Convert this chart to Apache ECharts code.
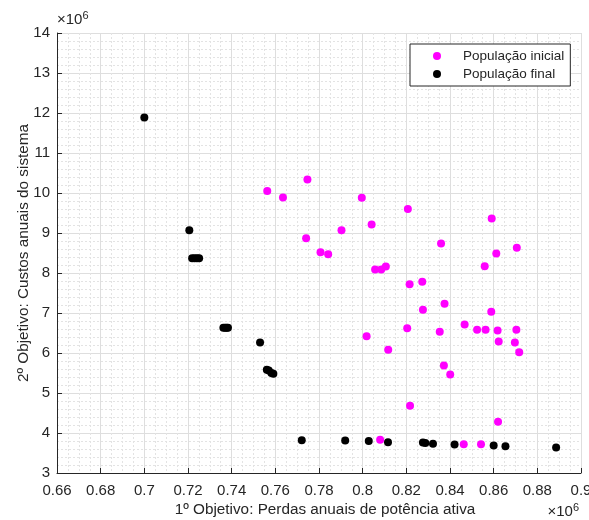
<!DOCTYPE html>
<html>
<head>
<meta charset="utf-8">
<script src="https://cdn.jsdelivr.net/npm/echarts@6/dist/echarts.min.js"></script>
<style>
html, body { margin: 0; padding: 0; background: #fff; }
#chart { width: 589px; height: 520px; }
</style>
</head>
<body>
<div id="chart"></div>
<script>
// valores em unidades de 10^6
var seriesNames = ['População inicial', 'População final'];

var initialLoss = [0.7563, 0.7635, 0.7747, 0.7996, 0.8207, 0.8591, 0.8041, 0.7903, 0.7741, 0.8359,
    0.7807, 0.7842, 0.8612, 0.8706, 0.8057, 0.8085, 0.8106, 0.8559, 0.8215, 0.8273,
    0.8375, 0.8276, 0.8589, 0.8467, 0.8204, 0.8353, 0.8524, 0.8563, 0.8618, 0.8704,
    0.8018, 0.8623, 0.8697, 0.8717, 0.8117, 0.8372, 0.8401, 0.8217, 0.8620, 0.8080,
    0.8463, 0.8542];
var initialCost = [10.05, 9.89, 10.34, 9.88, 9.60, 9.36, 9.21, 9.07, 8.87, 8.74,
    8.52, 8.47, 8.49, 8.63, 8.09, 8.09, 8.16, 8.17, 7.72, 7.78,
    7.23, 7.08, 7.03, 6.71, 6.62, 6.53, 6.58, 6.58, 6.56, 6.58,
    6.42, 6.29, 6.26, 6.02, 6.08, 5.69, 5.46, 4.68, 4.28, 3.83,
    3.72, 3.72];

var finalLoss = [0.7000, 0.7206, 0.7219, 0.7230, 0.7241, 0.7251, 0.7362, 0.7370, 0.7377, 0.7383,
    0.7530, 0.7561, 0.7570, 0.7582, 0.7591, 0.7721, 0.7920, 0.8028, 0.8116, 0.8276,
    0.8287, 0.8322, 0.8421, 0.8600, 0.8654, 0.8886];
var finalCost = [11.89, 9.07, 8.37, 8.37, 8.37, 8.37, 6.63, 6.63, 6.63, 6.63,
    6.26, 5.58, 5.56, 5.50, 5.48, 3.82, 3.81, 3.80, 3.77, 3.76,
    3.75, 3.73, 3.71, 3.69, 3.67, 3.64];

var xTitle = '1º Objetivo: Perdas anuais de potência ativa';
var yTitle = '2º Objetivo: Custos anuais do sistema';

function pairs(xs, ys) {
    return xs.map(function (x, i) { return [x, ys[i]]; });
}

var textColor = '#262626';
var fontFamily = '"Liberation Sans", Arial, sans-serif';

var myChart = echarts.init(document.getElementById('chart'));
var option = {
    animation: false,
    backgroundColor: '#fff',
    grid: { left: 57, right: 8, top: 33, bottom: 47, outerBoundsMode: 'none', containLabel: false },
    xAxis: {
        type: 'value',
        min: 0.66, max: 0.9, interval: 0.02,
        name: xTitle,
        nameLocation: 'middle',
        nameGap: 29,
        nameMoveOverlap: false,
        nameTextStyle: { color: textColor, fontSize: 15.3, fontFamily: fontFamily, padding: [0, 0, 0, 12] },
        axisLine: { show: true, lineStyle: { color: textColor, width: 1 } },
        axisTick: { show: true, inside: true, length: 5, lineStyle: { color: textColor } },
        axisLabel: {
            color: textColor, fontSize: 15, fontFamily: fontFamily, margin: 10,
            formatter: function (v) { return String(+v.toFixed(2)); }
        },
        splitLine: { show: true, lineStyle: { color: '#dedede', width: 1 } },
        minorTick: { show: false, splitNumber: 4 },
        minorSplitLine: { show: true, lineStyle: { color: '#e3e3e3', type: [2, 2], width: 1 } }
    },
    yAxis: {
        type: 'value',
        min: 3, max: 14, interval: 1,
        name: yTitle,
        nameLocation: 'middle',
        nameGap: 26,
        nameMoveOverlap: false,
        nameTextStyle: { color: textColor, fontSize: 15.3, fontFamily: fontFamily },
        axisLine: { show: true, lineStyle: { color: textColor, width: 1 } },
        axisTick: { show: true, inside: true, length: 5, lineStyle: { color: textColor } },
        axisLabel: { color: textColor, fontSize: 15, fontFamily: fontFamily, margin: 7 },
        splitLine: { show: true, lineStyle: { color: '#dedede', width: 1 } },
        minorTick: { show: false, splitNumber: 5 },
        minorSplitLine: { show: true, lineStyle: { color: '#e3e3e3', type: [2, 2], width: 1 } }
    },
    legend: {
        orient: 'vertical',
        left: 410, top: 44,
        backgroundColor: '#fff',
        borderColor: '#262626',
        borderWidth: 1,
        borderRadius: 0,
        padding: [3, 6, 3, 23],
        itemGap: 0,
        itemWidth: 8,
        itemHeight: 8,
        icon: 'circle',
        textStyle: {
            color: textColor, fontSize: 13.5, fontFamily: fontFamily,
            lineHeight: 18, padding: [0, 0, 0, 17]
        },
        data: seriesNames
    },
    series: [{
        name: seriesNames[0],
        type: 'scatter',
        symbolSize: 8,
        itemStyle: { color: '#ff00ff', opacity: 1 },
        data: pairs(initialLoss, initialCost)
    }, {
        name: seriesNames[1],
        type: 'scatter',
        symbolSize: 8,
        itemStyle: { color: '#000000', opacity: 1 },
        data: pairs(finalLoss, finalCost)
    }],
    graphic: [{
        type: 'text', left: 57, top: 10,
        style: {
            text: '×10{s|6}',
            fill: textColor, fontSize: 15, fontFamily: fontFamily,
            rich: { s: { fontSize: 11, verticalAlign: 'top', padding: [0, 0, 8, 0] } }
        }
    }, {
        type: 'text', right: 10, top: 502,
        style: {
            text: '×10{s|6}',
            fill: textColor, fontSize: 15, fontFamily: fontFamily,
            rich: { s: { fontSize: 11, verticalAlign: 'top', padding: [0, 0, 8, 0] } }
        }
    }]
};
myChart.setOption(option);
</script>
</body>
</html>
